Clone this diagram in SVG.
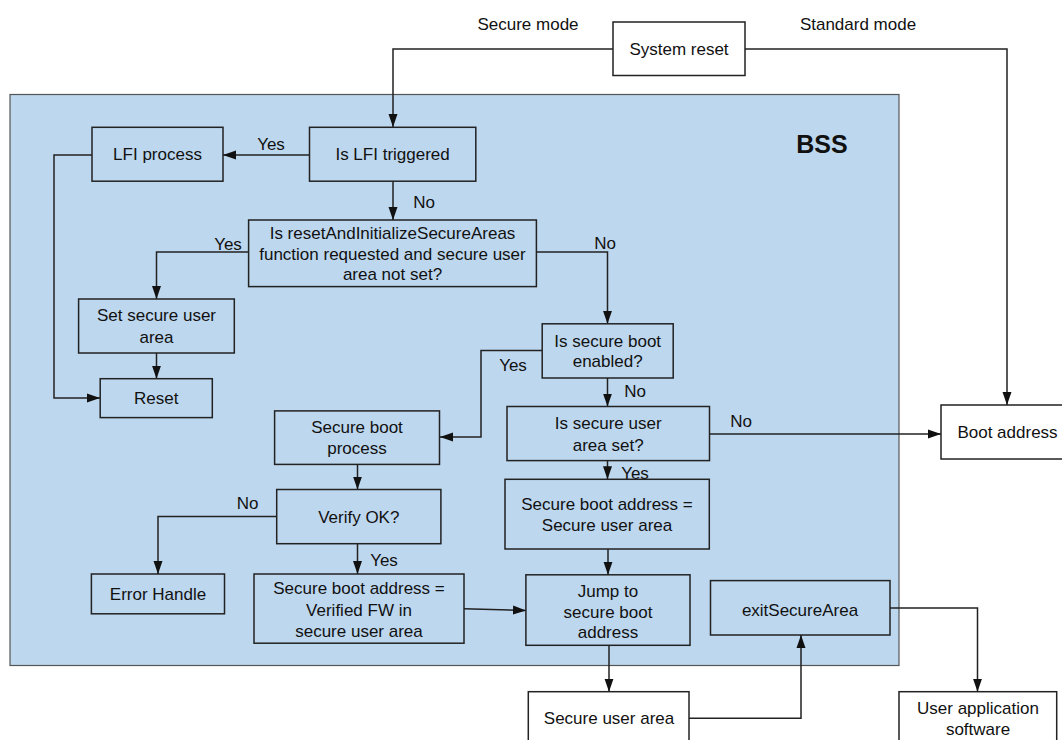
<svg xmlns="http://www.w3.org/2000/svg" width="1062" height="740" viewBox="0 0 1062 740">
<style>
text{font-family:"Liberation Sans",Arial,sans-serif;font-size:17px;fill:#111;text-anchor:middle}
.bss{font-weight:bold;font-size:25px}
.box{fill:#bdd7ee;stroke:#222;stroke-width:1.5}
.wbox{fill:#fff;stroke:#222;stroke-width:1.5}
.con{fill:none;stroke:#222;stroke-width:1.5}
</style>
<defs>
<marker id="ah" markerUnits="userSpaceOnUse" markerWidth="13" markerHeight="10" refX="13" refY="5" orient="auto">
<path d="M0,0.5 L13,5 L0,9.5 z" fill="#111"/>
</marker>
</defs>
<rect id="bss-area" x="10" y="94.5" width="889" height="571" fill="#bdd7ee" stroke="#555" stroke-width="1.2"/>
<text class="bss" x="822" y="153">BSS</text>
<text x="528" y="30">Secure mode</text>
<text x="858" y="30">Standard mode</text>

<g id="connectors">
<path class="con" d="M613,49 H393 V127" marker-end="url(#ah)"/>
<path class="con" d="M745,49 H1007 V405" marker-end="url(#ah)"/>
<path class="con" d="M309.5,155 H223" marker-end="url(#ah)"/>
<path class="con" d="M393,181 V220" marker-end="url(#ah)"/>
<path class="con" d="M248.5,252 H156.5 V299" marker-end="url(#ah)"/>
<path class="con" d="M156.5,353 V378.7" marker-end="url(#ah)"/>
<path class="con" d="M92,155 H54 V398 H100" marker-end="url(#ah)"/>
<path class="con" d="M536,252 H607.5 V323.8" marker-end="url(#ah)"/>
<path class="con" d="M542,350.5 H481 V437 H440" marker-end="url(#ah)"/>
<path class="con" d="M607.5,378 V406.5" marker-end="url(#ah)"/>
<path class="con" d="M709.5,434 H941" marker-end="url(#ah)"/>
<path class="con" d="M607.5,460.5 V479.3" marker-end="url(#ah)"/>
<path class="con" d="M608,549 V574.8" marker-end="url(#ah)"/>
<path class="con" d="M357.5,464.4 V489.5" marker-end="url(#ah)"/>
<path class="con" d="M276.7,516.6 H158 V574" marker-end="url(#ah)"/>
<path class="con" d="M357.5,543.7 V574" marker-end="url(#ah)"/>
<path class="con" d="M464,608.7 L526,610.4" marker-end="url(#ah)"/>
<path class="con" d="M609,645.3 V691.7" marker-end="url(#ah)"/>
<path class="con" d="M689,718.3 H801 V635" marker-end="url(#ah)"/>
<path class="con" d="M890,608 H977.5 V691.7" marker-end="url(#ah)"/>
<text x="271" y="150">Yes</text>
<text x="424" y="208">No</text>
<text x="228" y="250">Yes</text>
<text x="605" y="249">No</text>
<text x="513" y="371">Yes</text>
<text x="635" y="396.5">No</text>
<text x="741" y="427">No</text>
<text x="635" y="478.5">Yes</text>
<text x="247.6" y="509">No</text>
<text x="384" y="565.6">Yes</text>
</g>

<g id="system-reset">
<rect class="wbox" x="613" y="22" width="132" height="53.5"/>
<text x="679" y="55">System reset</text>
</g>
<g id="lfi-process">
<rect class="box" x="92" y="127.3" width="131" height="53.9"/>
<text x="157.5" y="160">LFI process</text>
</g>
<g id="is-lfi-triggered">
<rect class="box" x="309.5" y="127.3" width="166.3" height="53.9"/>
<text x="392.6" y="160">Is LFI triggered</text>
</g>
<g id="reset-init-decision">
<rect class="box" x="248.6" y="220" width="287.8" height="66.6"/>
<text x="392.5" y="239">Is resetAndInitializeSecureAreas</text>
<text x="392.5" y="259.5">function requested and secure user</text>
<text x="392.5" y="280">area not set?</text>
</g>
<g id="set-secure-user-area">
<rect class="box" x="78.6" y="299" width="155.7" height="54"/>
<text x="156.5" y="321">Set secure user</text>
<text x="156.5" y="342.5">area</text>
</g>
<g id="reset">
<rect class="box" x="100.2" y="378.7" width="112.1" height="38.9"/>
<text x="156.3" y="404.3">Reset</text>
</g>
<g id="secure-boot-enabled">
<rect class="box" x="542.2" y="323.8" width="131" height="54.2"/>
<text x="607.7" y="346.8">Is secure boot</text>
<text x="607.7" y="367">enabled?</text>
</g>
<g id="secure-boot-process">
<rect class="box" x="274.6" y="410.9" width="164.9" height="53.5"/>
<text x="357" y="432.8">Secure boot</text>
<text x="357" y="454">process</text>
</g>
<g id="secure-user-area-set">
<rect class="box" x="507" y="406.5" width="202.5" height="54.1"/>
<text x="608.2" y="429.4">Is secure user</text>
<text x="608.2" y="450.7">area set?</text>
</g>
<g id="boot-address">
<rect class="wbox" x="941" y="405" width="135" height="54"/>
<text x="1007.5" y="438">Boot address</text>
</g>
<g id="sba-sua">
<rect class="box" x="505" y="479.3" width="204.3" height="69.7"/>
<text x="607" y="510.3">Secure boot address =</text>
<text x="607" y="531">Secure user area</text>
</g>
<g id="verify-ok">
<rect class="box" x="276.7" y="489.5" width="164.2" height="54.2"/>
<text x="358.8" y="523.2">Verify OK?</text>
</g>
<g id="error-handle">
<rect class="box" x="91.4" y="574" width="133.1" height="39.8"/>
<text x="158" y="600.1">Error Handle</text>
</g>
<g id="sba-verified">
<rect class="box" x="254" y="574" width="210" height="69.2"/>
<text x="359" y="594.4">Secure boot address =</text>
<text x="359" y="615.7">Verified FW in</text>
<text x="359" y="636.7">secure user area</text>
</g>
<g id="jump">
<rect class="box" x="525.9" y="574.8" width="164.1" height="70.5"/>
<text x="608" y="597">Jump to</text>
<text x="608" y="618">secure boot</text>
<text x="608" y="638.4">address</text>
</g>
<g id="exit-secure-area">
<rect class="box" x="710.5" y="580.6" width="179.5" height="54.4"/>
<text x="800" y="615.7">exitSecureArea</text>
</g>
<g id="secure-user-area">
<rect class="wbox" x="528.3" y="691.7" width="160.7" height="60"/>
<text x="609" y="724.3">Secure user area</text>
</g>
<g id="user-app">
<rect class="wbox" x="899" y="691.7" width="157.7" height="60"/>
<text x="978" y="714.3">User application</text>
<text x="978" y="735.3">software</text>
</g>
</svg>
